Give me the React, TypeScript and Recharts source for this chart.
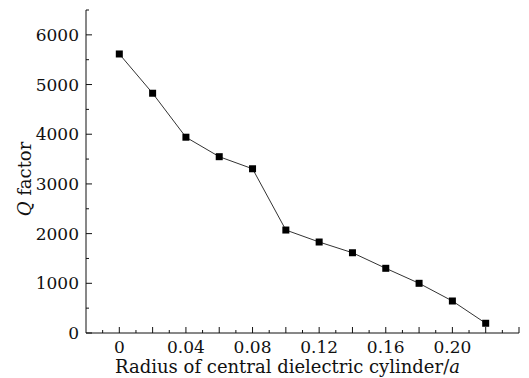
import { LineChart, Line, XAxis, YAxis } from 'recharts';

const radius = [0, 0.02, 0.04, 0.06, 0.08, 0.1, 0.12, 0.14, 0.16, 0.18, 0.2, 0.22];
const qFactor = [5615, 4825, 3940, 3548, 3305, 2072, 1831, 1615, 1302, 1000, 644, 196];

const xTicks = [-0.01, 0, 0.01, 0.02, 0.03, 0.04, 0.05, 0.06, 0.07, 0.08, 0.09, 0.1, 0.11, 0.12, 0.13, 0.14, 0.15, 0.16, 0.17, 0.18, 0.19, 0.2, 0.21, 0.22, 0.23, 0.24];
const xLabels = ['0', '0.04', '0.08', '0.12', '0.16', '0.20'];
const yTicks = [0, 500, 1000, 1500, 2000, 2500, 3000, 3500, 4000, 4500, 5000, 5500, 6000, 6500];

const data = radius.map((r, i) => ({ r, q: qFactor[i] }));

const FONT = '"DejaVu Serif", serif';
const INK = '#111';

const near = (a: number, b: number) => Math.abs(a - b) < 1e-6;

function labelFor(v: number) {
  return xLabels.find((l) => near(parseFloat(l), v));
}

function XTick(props: any) {
  const { x, y, payload } = props;
  const v = payload.value as number;
  const major = near(Math.round(v * 50) / 50, v);
  const label = labelFor(v);
  return (
    <g>
      <line x1={x} x2={x} y1={y} y2={y - (major ? 6 : 3)} stroke={INK} strokeWidth={1} />
      {label && (
        <text x={x} y={y + 20} textAnchor="middle" style={{ fontFamily: FONT, fontSize: 17 }} fill={INK}>
          {label}
        </text>
      )}
    </g>
  );
}

function YTick(props: any) {
  const { x, y, payload } = props;
  const v = payload.value as number;
  const major = v % 1000 === 0;
  return (
    <g>
      <line x1={x} x2={x + (major ? 6 : 3)} y1={y} y2={y} stroke={INK} strokeWidth={1} />
      {major && (
        <text x={x - 7} y={y + 6} textAnchor="end" style={{ fontFamily: FONT, fontSize: 17 }} fill={INK}>
          {v}
        </text>
      )}
    </g>
  );
}

function SquareDot(props: any) {
  const { cx, cy } = props;
  if (cx == null || cy == null) return null;
  return <rect x={cx - 3.5} y={cy - 3.5} width={7} height={7} fill="#000" />;
}

export default function App() {
  return (
    <div style={{ position: 'absolute', left: 0, top: 0, width: 529, height: 378, background: '#fff' }}>
      <LineChart width={529} height={378} data={data} margin={{ top: 10, right: 10, left: 26, bottom: 0 }}>
        <XAxis
          dataKey="r"
          type="number"
          domain={[-0.02, 0.24]}
          ticks={xTicks}
          interval={0}
          allowDataOverflow
          height={45}
          tickSize={0}
          tickMargin={0}
          tickLine={false}
          axisLine={{ stroke: INK, strokeWidth: 1 }}
          tick={<XTick />}
          label={{
            content: (p: any) => {
              const vb = p.viewBox;
              return (
                <text
                  x={vb.x + vb.width / 2 - 15}
                  y={373}
                  textAnchor="middle"
                  style={{ fontFamily: FONT, fontSize: 18 }}
                  fill={INK}
                >
                  Radius of central dielectric cylinder/<tspan fontStyle="italic">a</tspan>
                </text>
              );
            },
          }}
        />
        <YAxis
          type="number"
          domain={[0, 6500]}
          ticks={yTicks}
          interval={0}
          width={60}
          tickSize={0}
          tickMargin={0}
          tickLine={false}
          axisLine={{ stroke: INK, strokeWidth: 1 }}
          tick={<YTick />}
          label={{
            content: () => (
              <text
                x={24}
                y={179}
                transform="rotate(-90 24 179)"
                textAnchor="middle"
                dominantBaseline="central"
                style={{ fontFamily: FONT, fontSize: 18 }}
                fill={INK}
              >
                <tspan fontStyle="italic">Q</tspan> factor
              </text>
            ),
          }}
        />
        <Line
          dataKey="q"
          type="linear"
          stroke="#333"
          strokeWidth={1}
          dot={<SquareDot />}
          activeDot={false}
          isAnimationActive={false}
        />
      </LineChart>
    </div>
  );
}
